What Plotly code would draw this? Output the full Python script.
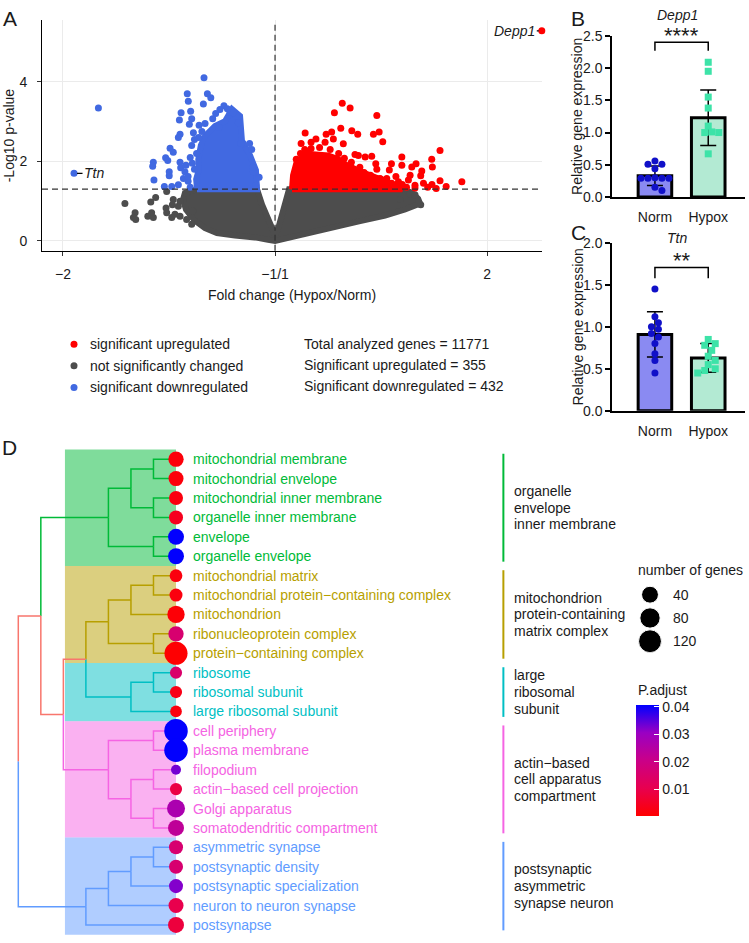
import numpy as np
import plotly.graph_objects as go

W, H = 749, 943
FONT = "Liberation Sans, Arial, Helvetica, sans-serif"
INK = "#1a1a1a"


def PX(x):
    return x / W


def PY(y):
    return 1 - y / H


# ===================== Panel A : volcano (log2 FC, -log10 p) =====================
gray_core = [(-0.434, 1.04), (-0.425, 1.21), (-0.368, 1.30), (-0.085, 1.30), (-0.061, 0.91),
             (-0.033, 0.54), (-0.009, 0.22), (0.000, 0.15), (0.014, 0.30), (0.038, 0.79),
             (0.066, 1.30), (0.604, 1.30), (0.646, 1.21), (0.675, 1.06), (0.684, 0.94),
             (0.613, 0.79), (0.519, 0.64), (0.401, 0.50), (0.283, 0.35), (0.165, 0.22),
             (0.071, 0.09), (0.014, 0.03), (0.000, 0.00), (-0.033, 0.03), (-0.094, 0.09),
             (-0.189, 0.14), (-0.274, 0.20), (-0.330, 0.32), (-0.380, 0.52), (-0.420, 0.79)]
gray_points = [(-0.708, 0.94), (-0.660, 0.71), (-0.668, 0.59), (-0.657, 0.54), (-0.600, 0.62),
               (-0.582, 0.71), (-0.574, 0.59), (-0.586, 0.98), (-0.563, 1.09), (-0.511, 1.24),
               (-0.514, 0.83), (-0.480, 1.04), (-0.484, 0.91), (-0.456, 0.87), (-0.472, 0.67),
               (-0.448, 0.62), (-0.417, 1.20), (-0.388, 0.75), (-0.393, 0.42), (-0.417, 0.54),
               (-0.511, 0.71), (-0.487, 0.59), (-0.448, 1.00), (0.687, 0.91), (0.637, 1.18),
               (0.660, 1.16), (0.590, 1.04)]
blue_core = [(-0.368, 1.30), (-0.372, 1.55), (-0.360, 1.78), (-0.362, 2.05), (-0.350, 2.40),
             (-0.330, 2.64), (-0.283, 2.89), (-0.236, 3.01), (-0.203, 3.31), (-0.165, 3.14),
             (-0.156, 2.52), (-0.118, 2.15), (-0.090, 1.78), (-0.085, 1.30)]
blue_points = [(-0.833, 3.34), (-0.335, 4.10), (-0.414, 3.70), (-0.319, 3.70), (-0.303, 3.60),
               (-0.338, 3.44), (-0.409, 3.51), (-0.443, 3.22), (-0.398, 3.26), (-0.451, 3.04),
               (-0.393, 3.07), (-0.404, 2.93), (-0.241, 3.40), (-0.212, 3.23), (-0.184, 3.14),
               (-0.294, 3.07), (-0.448, 2.68), (-0.456, 2.60), (-0.495, 2.33), (-0.516, 2.09),
               (-0.506, 2.02), (-0.574, 1.98), (-0.577, 1.88), (-0.480, 2.23), (-0.448, 1.98),
               (-0.445, 1.84), (-0.499, 1.74), (-0.499, 1.64), (-0.571, 1.53), (-0.522, 1.37),
               (-0.487, 1.37), (-0.456, 1.41), (-0.432, 1.57), (-0.425, 1.74), (-0.385, 2.72),
               (-0.393, 2.40), (-0.358, 2.91), (-0.150, 2.44), (-0.173, 2.97), (-0.197, 3.22),
               (-0.102, 1.74), (-0.090, 1.40), (-0.370, 2.20), (-0.380, 1.80), (-0.410, 1.50),
               (-0.400, 1.35), (-0.280, 3.20), (-0.260, 3.30), (-0.120, 2.45), (-0.110, 2.30),
               (-0.075, 1.60), (-0.330, 2.95), (-0.360, 2.60), (-0.160, 2.45), (-0.105, 1.85),
               (-0.225, 3.32), (-0.265, 2.85), (-0.345, 2.75), (-0.410, 1.62), (-0.390, 1.95),
               (-0.400, 2.10), (-0.420, 1.90), (-0.380, 2.55)]
ttn_point = (-0.948, 1.70)
red_core = [(0.080, 1.30), (0.085, 1.65), (0.100, 1.95), (0.125, 2.10), (0.180, 2.18),
            (0.250, 2.15), (0.300, 2.05), (0.340, 1.90), (0.400, 1.75), (0.470, 1.62),
            (0.530, 1.50), (0.580, 1.38), (0.600, 1.30)]
red_points = [(0.317, 3.46), (0.354, 3.34), (0.280, 3.22), (0.480, 3.15), (0.310, 2.83),
              (0.362, 2.77), (0.390, 2.68), (0.142, 2.71), (0.241, 2.68), (0.267, 2.74),
              (0.464, 2.68), (0.491, 2.74), (0.508, 2.49), (0.123, 2.45), (0.170, 2.48),
              (0.193, 2.56), (0.236, 2.48), (0.275, 2.56), (0.322, 2.44), (0.778, 2.27),
              (0.137, 2.19), (0.160, 2.23), (0.377, 2.17), (0.393, 2.15), (0.425, 2.11),
              (0.456, 2.13), (0.598, 2.11), (0.739, 2.05), (0.327, 2.08), (0.110, 1.94),
              (0.475, 1.94), (0.549, 1.94), (0.665, 1.94), (0.598, 1.90), (0.742, 1.86),
              (0.645, 1.86), (0.692, 1.76), (0.539, 1.78), (0.687, 1.64), (0.637, 1.65),
              (0.778, 1.51), (0.881, 1.49), (0.807, 1.37), (0.660, 1.33), (0.582, 1.49),
              (0.527, 1.57), (0.495, 1.57), (0.629, 1.53), (0.456, 1.37), (0.514, 1.33),
              (0.086, 1.37), (0.420, 1.72), (0.450, 1.65), (0.500, 1.55), (0.550, 1.45),
              (0.570, 1.62), (0.600, 1.42), (0.620, 1.35), (0.480, 1.80), (0.400, 1.85),
              (0.360, 1.98), (0.300, 2.20), (0.260, 2.30), (0.210, 2.35), (0.170, 2.32),
              (0.140, 2.30), (0.120, 2.20), (0.100, 2.05), (0.660, 1.40), (0.700, 1.45),
              (0.720, 1.35), (0.740, 1.42), (0.760, 1.32)]
depp1_point = (1.258, 5.28)
p_threshold = 1.301
a_xticks = [-1, 0, 1]
a_xticklabels = ["−2", "−1/1", "2"]
a_yticks = [0, 2, 4]
legend_labels = ["significant upregulated", "not significantly changed", "significant downregulated"]
stats_lines = ["Total analyzed genes = 11771", "Significant upregulated = 355",
               "Significant downregulated = 432"]

# ===================== Panels B / C : qPCR =====================
groups = ["Norm", "Hypox"]
b_norm = [0.56, 0.51, 0.51, 0.44, 0.30, 0.29, 0.29, 0.29, 0.29, 0.15, 0.10]
b_hypox = [2.09, 1.95, 1.55, 1.38, 1.10, 1.01, 1.00, 1.00, 0.67]
b_mean = [0.33, 1.23]
b_sd = [0.15, 0.43]
c_norm = [1.45, 1.12, 1.05, 1.00, 0.97, 0.92, 0.88, 0.80, 0.68, 0.60, 0.45]
c_hypox = [0.85, 0.80, 0.78, 0.72, 0.65, 0.60, 0.55, 0.50, 0.48, 0.45]
c_mean = [0.91, 0.63]
c_sd = [0.27, 0.17]

# ===================== Panel D : GO tree =====================
go_terms = ["mitochondrial membrane", "mitochondrial envelope", "mitochondrial inner membrane",
            "organelle inner membrane", "envelope", "organelle envelope", "mitochondrial matrix",
            "mitochondrial protein−containing complex", "mitochondrion", "ribonucleoprotein complex",
            "protein−containing complex", "ribosome", "ribosomal subunit", "large ribosomal subunit",
            "cell periphery", "plasma membrane", "filopodium", "actin−based cell projection",
            "Golgi apparatus", "somatodendritic compartment", "asymmetric synapse",
            "postsynaptic density", "postsynaptic specialization", "neuron to neuron synapse",
            "postsynapse"]
go_count = [27, 25, 19, 19, 32, 32, 13, 14, 44, 27, 122, 11, 11, 10, 131, 131, 8, 11, 51, 32,
            19, 19, 19, 25, 32]
go_padj = [0.0015, 0.0015, 0.002, 0.004, 0.0405, 0.0405, 0.002, 0.002, 0.001, 0.016, 0.0005,
           0.015, 0.003, 0.002, 0.0405, 0.0405, 0.033, 0.009, 0.027, 0.023, 0.016, 0.016, 0.032,
           0.010, 0.008]
cluster_rows = [(1, 6), (7, 11), (12, 14), (15, 20), (21, 25)]
cluster_text = [["organelle", "envelope", "inner membrane"],
                ["mitochondrion", "protein-containing", "matrix complex"],
                ["large", "ribosomal", "subunit"],
                ["actin−based", "cell apparatus", "compartment"],
                ["postsynaptic", "asymmetric", "synapse neuron"]]
cluster_colors = ["#00BA38", "#B79F00", "#00BFC4", "#F564E3", "#619CFF"]
upper_color = "#F8766D"
# tree: node -> (depth, children); ints are leaf rows
tree = {
    "g12": (6, [1, 2]), "g34": (6, [3, 4]), "g1234": (5, ["g12", "g34"]), "g56": (6, [5, 6]),
    "G": (4, ["g1234", "g56"]),
    "y78": (6, [7, 8]), "y789": (5, ["y78", 9]), "y1011": (6, [10, 11]), "Y": (4, ["y789", "y1011"]),
    "c1213": (6, [12, 13]), "C": (5, ["c1213", 14]),
    "p1516": (6, [15, 16]), "p1718": (6, [17, 18]), "p1920": (6, [19, 20]),
    "p1720": (5, ["p1718", "p1920"]), "P": (4, ["p1516", "p1720"]),
    "b2122": (6, [21, 22]), "b2123": (5, ["b2122", 23]), "b2124": (4, ["b2123", 24]),
    "B": (3, ["b2124", 25]),
    "n3": (3, ["Y", "C"]), "n2": (2, ["n3", "P"]), "n1": (1, ["G", "n2"]), "root": (0, ["n1", "B"]),
}
leaf_depth = 7
size_legend_counts = [40, 80, 120]
padj_ticks = [0.01, 0.02, 0.03, 0.04]
padj_range = [0.0002, 0.0406]

# ------------------------------------------------------------------
GRAY, RED, BLUE = "#4D4D4D", "#FF0000", "#4169E1"
fig = go.Figure()


def unzip(pts, close=False):
    pts = list(pts) + ([pts[0]] if close else [])
    return [p[0] for p in pts], [p[1] for p in pts]


for core, pts, col in [(gray_core, gray_points, GRAY), (blue_core, blue_points, BLUE),
                       (red_core, red_points, RED)]:
    cx, cy = unzip(core, True)
    fig.add_trace(go.Scatter(x=cx, y=cy, mode="lines", fill="toself", fillcolor=col,
                             line=dict(color=col, width=6), xaxis="x", yaxis="y", hoverinfo="skip"))
    px_, py_ = unzip(pts)
    fig.add_trace(go.Scatter(x=px_, y=py_, mode="markers", marker=dict(color=col, size=7, opacity=1),
                             xaxis="x", yaxis="y", hoverinfo="skip"))
fig.add_trace(go.Scatter(x=[ttn_point[0]], y=[ttn_point[1]], mode="markers",
                         marker=dict(color=BLUE, size=7), xaxis="x", yaxis="y"))
fig.add_trace(go.Scatter(x=[depp1_point[0]], y=[depp1_point[1]], mode="markers",
                         marker=dict(color=RED, size=7), xaxis="x", yaxis="y", cliponaxis=False))

# legend of A
fig.add_trace(go.Scatter(x=[14, 14, 14], y=[0, 1, 2], mode="markers",
                         marker=dict(color=[RED, GRAY, BLUE], size=7, opacity=1), xaxis="x5", yaxis="y5"))


# ---- B / C bars ----
def swarm(vals, ypu, xpu, d=7.0):
    placed, offs = [], [0.0] * len(vals)
    order = sorted(range(len(vals)), key=lambda i: -vals[i])
    step = d * 0.5
    for i in order:
        yv = vals[i] * ypu
        k = 0
        while True:
            cands = [0.0] if k == 0 else [k * step, -k * step]
            hit = None
            for c in cands:
                if all((c - a) ** 2 + (yv - b) ** 2 >= d * d * 0.95 for a, b in placed):
                    hit = c
                    break
            if hit is not None:
                placed.append((hit, yv))
                offs[i] = hit / xpu
                break
            k += 1
    return offs


for (norm, hyp, mean, sd, xa, ya, ypu) in [(b_norm, b_hypox, b_mean, b_sd, "x2", "y2", 65.6),
                                            (c_norm, c_hypox, c_mean, c_sd, "x3", "y3", 85.35)]:
    fig.add_trace(go.Bar(x=[0, 1], y=mean, width=0.63,
                         marker=dict(color=["#8A8AF2", "#B3EAD3"], line=dict(color="black", width=3)),
                         error_y=dict(type="data", array=sd, color="black", thickness=1.5, width=8),
                         xaxis=xa, yaxis=ya))
    on = swarm(norm, ypu, 53.3)
    oh = swarm(hyp, ypu, 53.3)
    fig.add_trace(go.Scatter(x=[0 + o for o in on], y=norm, mode="markers",
                             marker=dict(color="#1010C8", size=7, symbol="circle", opacity=1),
                             xaxis=xa, yaxis=ya, cliponaxis=False))
    fig.add_trace(go.Scatter(x=[1 + o for o in oh], y=hyp, mode="markers",
                             marker=dict(color="#3DE3A8", size=7, symbol="square", opacity=1),
                             xaxis=xa, yaxis=ya, cliponaxis=False))

# ---- D tree ----
node_y = {}


def gety(n):
    if isinstance(n, int):
        return float(n)
    if n not in node_y:
        node_y[n] = float(np.mean([gety(c) for c in tree[n][1]]))
    return node_y[n]


def getd(n):
    return leaf_depth if isinstance(n, int) else tree[n][0]


def leaves(n):
    if isinstance(n, int):
        return [n]
    out = []
    for c in tree[n][1]:
        out += leaves(c)
    return out


def color_of(n):
    lv = leaves(n)
    for (a, b), col in zip(cluster_rows, cluster_colors):
        if all(a <= v <= b for v in lv):
            return col
    return upper_color


segs = {}
for n, (d, ch) in tree.items():
    yp = gety(n)
    for c in ch:
        yc = gety(c)
        col = color_of(c)
        xs, ys = segs.setdefault(col, ([], []))
        xs += [d, d, getd(c), None]
        ys += [yp, yc, yc, None]
for col, (xs, ys) in segs.items():
    fig.add_trace(go.Scatter(x=xs, y=ys, mode="lines", line=dict(color=col, width=1.5),
                             xaxis="x4", yaxis="y4", hoverinfo="skip"))


def count_to_size(c):
    return 10 + 14 * np.sqrt(max(c - 8, 0) / 132.0)


rows = list(range(1, len(go_terms) + 1))
colorscale = [[0, "#FF0000"], [0.25, "#E8004F"], [0.5, "#CA0088"], [0.75, "#9A00C3"], [1, "#0000FF"]]
fig.add_trace(go.Scatter(
    x=[leaf_depth] * len(rows), y=rows, mode="markers",
    marker=dict(size=[count_to_size(c) for c in go_count], color=go_padj, colorscale=colorscale,
                cmin=padj_range[0], cmax=padj_range[1], line=dict(width=0), opacity=1,
                colorbar=dict(x=PX(636), xanchor="left", xpad=0, y=PY(709.3), yanchor="top", ypad=0,
                              len=110.7, lenmode="pixels", thickness=23, thicknessmode="pixels",
                              outlinewidth=0, tickvals=padj_ticks, ticktext=[f"{t:.2f}" for t in padj_ticks],
                              ticks="inside", tickcolor="white", ticklen=5, tickwidth=1,
                              tickfont=dict(size=14, color=INK, family=FONT))),
    xaxis="x4", yaxis="y4", hoverinfo="skip"))

# size legend
fig.add_trace(go.Scatter(x=[14] * 3, y=[0, 1, 2], mode="markers",
                         marker=dict(color="black", opacity=1,
                                     size=[count_to_size(c) for c in size_legend_counts]),
                         xaxis="x6", yaxis="y6", hoverinfo="skip"))

# ------------------------------------------------------------------
shapes, annotations = [], []


def ann(x, y, text, size=14, xanchor="center", yanchor="middle", color=INK, angle=0,
        xref="paper", yref="paper", **kw):
    annotations.append(dict(x=x, y=y, text=text, xref=xref, yref=yref, showarrow=False,
                            xanchor=xanchor, yanchor=yanchor, textangle=angle,
                            font=dict(size=size, color=color, family=FONT), **kw))


# A guides
shapes.append(dict(type="line", xref="x", yref="y domain", x0=0, x1=0, y0=0, y1=0.995,
                   line=dict(color="#333333", width=1.2, dash="6px,4px")))
shapes.append(dict(type="line", xref="x domain", yref="y", x0=0, x1=1, y0=p_threshold, y1=p_threshold,
                   line=dict(color="#333333", width=1.2, dash="6px,4px")))
annotations.append(dict(x=depp1_point[0], y=depp1_point[1], xref="x", yref="y", text="<i>Depp1</i>",
                        showarrow=True, arrowhead=0, arrowwidth=1.2, arrowcolor="black", ax=-27, ay=0,
                        standoff=3, font=dict(size=14, color=INK, family=FONT)))
annotations.append(dict(x=ttn_point[0], y=ttn_point[1], xref="x", yref="y", text="<i>Ttn</i>",
                        showarrow=True, arrowhead=0, arrowwidth=1.2, arrowcolor="black", ax=20, ay=0,
                        standoff=3, font=dict(size=14, color=INK, family=FONT)))
ann(PX(292), PY(292), "Fold change (Hypox/Norm)")
ann(PX(9), PY(129.5), "-Log10 p-value", angle=-90)
ann(PX(1), PY(11), "A", size=21, xanchor="left")
for i, t in enumerate(legend_labels):
    ann(28.3, i, t, xanchor="left", xref="x5", yref="y5")
for i, t in enumerate(stats_lines):
    ann(PX(302), PY(342 + 21.5 * i), t, xanchor="left")

# B / C decorations (significance text placed in paper space so it is never hidden)
for (xa, ya, ytop, yleg, star_px, stars, title, ytitle_px, letter, letter_px, tcenter) in [
        ("x2", "y2", 2.40, 2.27, 28, "****", "Depp1", 7, "B", 10.5, 110.3),
        ("x3", "y3", 1.707, 1.58, 256.5, "**", "Ttn", 234.3, "C", 228, 324.4)]:
    shapes.append(dict(type="path", xref=xa, yref=ya,
                       path=f"M 0,{yleg} L 0,{ytop} L 1,{ytop} L 1,{yleg}",
                       line=dict(color="black", width=1.5)))
    ann(PX(681.6), PY(star_px), stars, size=22)
    ann(PX(677), PY(ytitle_px), f"<i>{title}</i>")
    ann(PX(569), PY(letter_px), letter, size=21, xanchor="left")
    ann(PX(577.5), PY(tcenter), "Relative gene expression", angle=-90)

# D decorations
ann(PX(0), PY(447.5), "D", size=21, xanchor="left")
for (a, b), col, lines in zip(cluster_rows, cluster_colors, cluster_text):
    shapes.append(dict(type="rect", xref="x4", yref="y4", x0=2.07, x1=leaf_depth, y0=a - 0.5, y1=b + 0.5,
                       fillcolor=col, opacity=0.5, line=dict(width=0), layer="below"))
    shapes.append(dict(type="line", xref="x4", yref="y4", x0=21.53, x1=21.53, y0=a - 0.5 + 0.22,
                       y1=b + 0.5 - 0.22, line=dict(color=col, width=2)))
    mid = (a + b) / 2
    for k, t in enumerate(lines):
        annotations.append(dict(x=21.93, y=mid, xref="x4", yref="y4", text=t, showarrow=False,
                                xanchor="left", yanchor="middle", yshift=16.7 * (1 - k),
                                font=dict(size=14, color=INK, family=FONT)))
    for r in range(a, b + 1):
        annotations.append(dict(x=7.665, y=r, xref="x4", yref="y4", text=go_terms[r - 1],
                                showarrow=False, xanchor="left", yanchor="middle",
                                font=dict(size=14, color=col, family=FONT)))
ann(PX(636), PY(571.7), "number of genes", xanchor="left")
for i, c in enumerate(size_legend_counts):
    ann(34.7, i, str(c), xanchor="left", xref="x6", yref="y6")
ann(PX(636), PY(693.3), "P.adjust", xanchor="left")

hidden = dict(visible=False, showgrid=False, zeroline=False)
bc_x = dict(range=[-0.8, 1.69], tickvals=[0, 1], ticktext=groups, showline=True, linecolor="black",
            linewidth=2, ticks="", showgrid=False, zeroline=False, ticklabelstandoff=6,
            tickfont=dict(size=14, color=INK))
bc_y = dict(showline=True, linecolor="black", linewidth=2, ticks="outside", ticklen=5, tickwidth=2,
            tickcolor="black", showgrid=False, zeroline=False, tickformat=".1f",
            tickfont=dict(size=14, color=INK))

fig.update_layout(
    width=W, height=H, margin=dict(l=0, r=0, t=0, b=0), showlegend=False,
    paper_bgcolor="white", plot_bgcolor="rgba(0,0,0,0)",
    font=dict(family=FONT, size=14, color=INK),
    xaxis=dict(domain=[PX(42), PX(542)], range=[-1.099, 1.259], tickvals=a_xticks, ticktext=a_xticklabels,
               showgrid=True, gridcolor="#EBEBEB", gridwidth=1, showline=True, linecolor="black",
               linewidth=1, ticks="outside", ticklen=4, tickcolor="#333333", zeroline=False,
               anchor="y", ticklabelstandoff=6, tickfont=dict(size=14, color=INK)),
    yaxis=dict(domain=[PY(247), PY(12)], range=[-0.247, 5.556], tickvals=a_yticks, showgrid=True,
               gridcolor="#EBEBEB", gridwidth=1, showline=True, linecolor="black", linewidth=1,
               ticks="outside", ticklen=4, tickcolor="#333333", zeroline=False, anchor="x",
               ticklabelstandoff=7, tickfont=dict(size=14, color=INK)),
    xaxis2=dict(domain=[PX(612.3), PX(745)], anchor="y2", **bc_x),
    yaxis2=dict(domain=[PY(192.3), PY(28.3)], range=[0, 2.5], anchor="x2",
                tickvals=[0, 0.5, 1, 1.5, 2, 2.5], **bc_y),
    xaxis3=dict(domain=[PX(612.3), PX(745)], anchor="y3", **bc_x),
    yaxis3=dict(domain=[PY(409.7), PY(239)], range=[0, 2.0], anchor="x3",
                tickvals=[0, 0.5, 1, 1.5, 2], **bc_y),
    xaxis4=dict(domain=[0, 1], range=[-0.8122, 32.432], anchor="y4", **hidden),
    yaxis4=dict(domain=[0, PY(440)], range=[25.519, 0.0375], anchor="x4", **hidden),
    xaxis5=dict(domain=[PX(60), PX(300)], range=[0, 240], anchor="y5", **hidden),
    yaxis5=dict(domain=[PY(397), PY(331)], range=[2.5, -0.5], anchor="x5", **hidden),
    xaxis6=dict(domain=[PX(636), PX(736)], range=[0, 100], anchor="y6", **hidden),
    yaxis6=dict(domain=[PY(656), PY(585)], range=[2.5, -0.5], anchor="x6", **hidden),
    shapes=shapes, annotations=annotations,
)

fig.write_html("out.html", config={"displayModeBar": False, "staticPlot": True},
               post_script="document.body.style.margin='0';document.body.style.padding='0';"
                           "document.documentElement.style.overflow='hidden';")
